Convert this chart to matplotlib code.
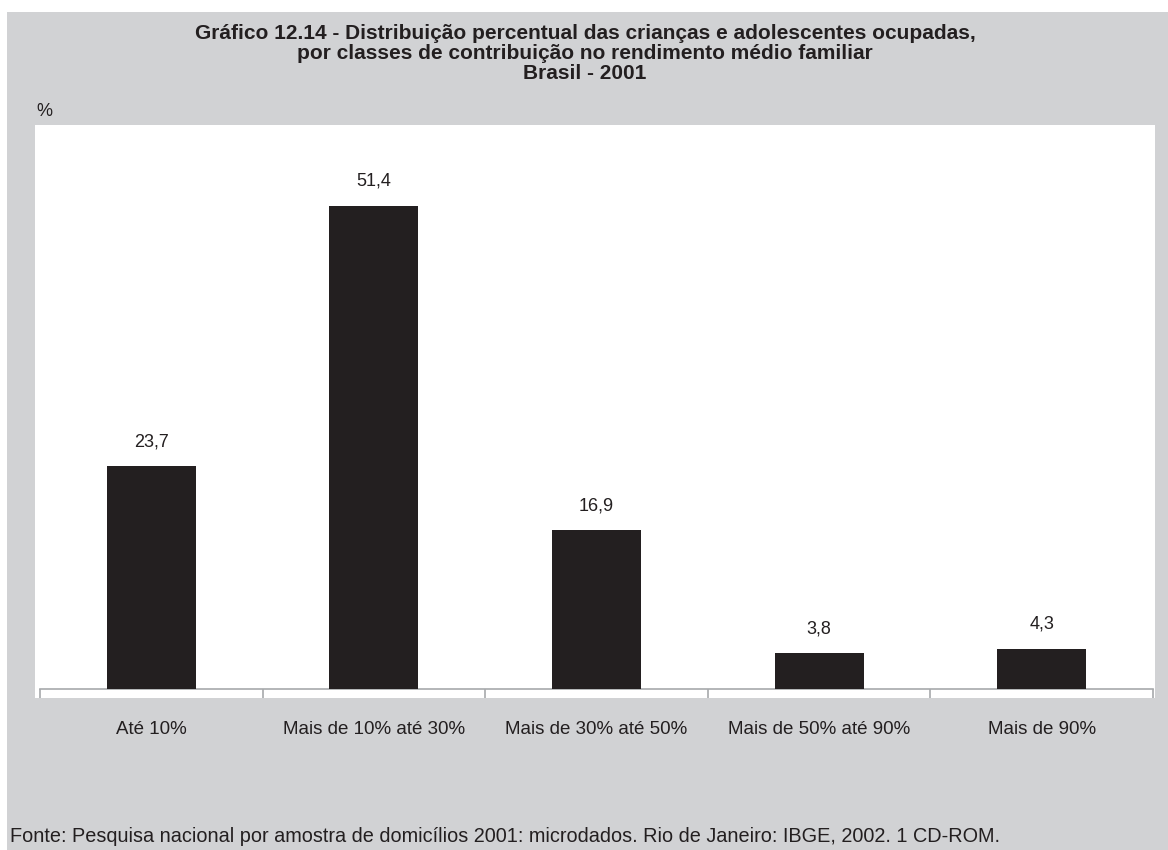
import matplotlib
matplotlib.use("Agg")
import matplotlib.pyplot as plt
from matplotlib.patches import Rectangle

plt.rcParams['font.family'] = ['Liberation Sans', 'DejaVu Sans']

# Data
categories = ["Até 10%", "Mais de 10% até 30%", "Mais de 30% até 50%",
              "Mais de 50% até 90%", "Mais de 90%"]
values = [23.7, 51.4, 16.9, 3.8, 4.3]
value_labels = ["23,7", "51,4", "16,9", "3,8", "4,3"]

title = ("Gráfico 12.14 - Distribuição percentual das crianças e adolescentes ocupadas,\n"
         "por classes de contribuição no rendimento médio familiar\n"
         "Brasil - 2001")
source = "Fonte: Pesquisa nacional por amostra de domicílios 2001: microdados. Rio de Janeiro: IBGE, 2002. 1 CD-ROM."

W, H = 1168, 850
TXT = '#231f20'
fig = plt.figure(figsize=(W / 100, H / 100), dpi=100, facecolor='white')

# gray panel behind everything
fig.patches.append(Rectangle((7 / W, 0), 1 - 7 / W, 1 - 12 / H, transform=fig.transFigure,
                             facecolor='#d1d2d4', edgecolor='none', zorder=-10))

ax = fig.add_axes([35 / W, (H - 698) / H, 1120 / W, 573 / H])
ax.set_facecolor('white')

x = list(range(len(categories)))
ax.bar(x, values, width=0.4, color=TXT, zorder=3)
for xi, v, lab in zip(x, values, value_labels):
    ax.annotate(lab, (xi, v), xytext=(0, 20), textcoords='offset pixels',
                ha='center', va='baseline', fontsize=13, color=TXT)

ax.set_xlim(-0.5 - 5 / 222.6, 4.5 + 2 / 222.6)
ax.set_ylim(-9 / 9.4, 60)

for s in ['top', 'right', 'left']:
    ax.spines[s].set_visible(False)
ax.spines['bottom'].set_position(('data', 0))
ax.spines['bottom'].set_bounds(-0.5, 4.5)
ax.spines['bottom'].set_color('#a7a9ac')
ax.spines['bottom'].set_linewidth(1.2)

ax.set_yticks([])
ax.set_xticks([i - 0.5 for i in range(len(categories) + 1)])
ax.set_xticklabels([])
ax.tick_params(axis='x', which='major', direction='out', length=6.5, width=1.2, color='#a7a9ac')
ax.set_xticks(x, minor=True)
ax.set_xticklabels(categories, minor=True)
ax.tick_params(axis='x', which='minor', length=0, pad=23, labelsize=13.5, labelcolor=TXT)

fig.text(585 / W, 1 - 24 / H, title, ha='center', va='top', fontsize=15,
         fontweight='bold', color=TXT, linespacing=1.06)
fig.text(36 / W, 1 - 111 / H, "%", ha='left', va='center', fontsize=13, color=TXT)
fig.text(10 / W, 1 - 842 / H, source, ha='left', va='baseline', fontsize=14.3, color=TXT)

fig.savefig("out.png", dpi=100, facecolor=fig.get_facecolor())
